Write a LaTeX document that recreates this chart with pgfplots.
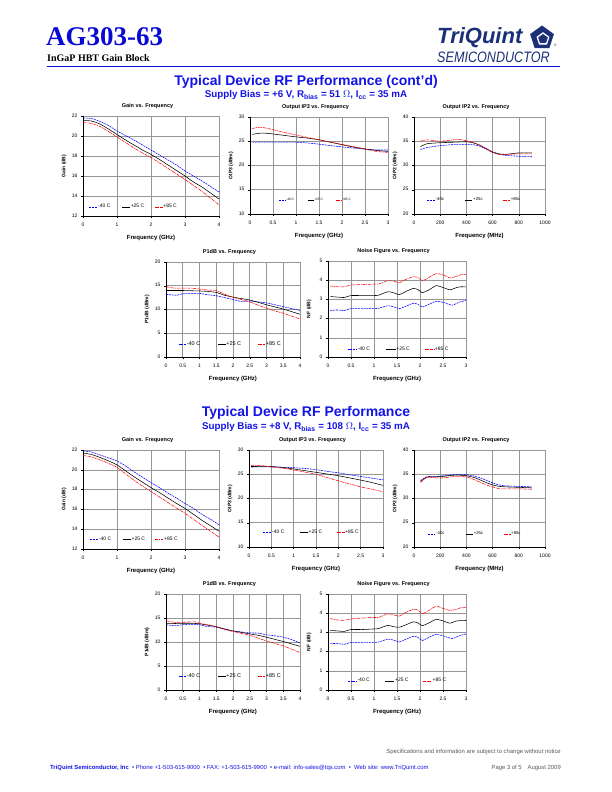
\documentclass[border=0pt]{standalone}
\usepackage{pgfplots}
\pgfplotsset{compat=1.18}
\usepackage{fontspec}
\setmainfont{Liberation Sans}
\newfontfamily\serifbf{Liberation Serif}
\usetikzlibrary{shapes.geometric}
\definecolor{tqblue}{RGB}{20,20,230}
\definecolor{hdrblue}{RGB}{10,10,215}
\definecolor{logoblue}{RGB}{28,48,120}
\definecolor{gridgray}{RGB}{150,150,150}
\definecolor{ftgray}{RGB}{90,90,90}
\pgfplotsset{
  ds/.style={
    scale only axis, anchor=south west, no markers,
    axis x line*=bottom, axis y line*=left,
    axis line style={black, line width=0.6pt},
    grid=major, major grid style={gridgray, line width=0.6pt},
    tick align=outside, major tick length=2pt,
    tick style={black, line width=0.5pt},
    ticklabel style={font=\fontsize{5}{6}\selectfont},
    typeset ticklabels with strut,
    xticklabel shift=0.5pt,
    /pgf/number format/assume math mode=true,
    /pgf/number format/1000 sep={},
    /pgf/number format/fixed,
    every axis title shift=0pt,
    title style={font=\bfseries\fontsize{5.5}{6}\selectfont, at={(0.5,1)}, anchor=center, yshift=9.5pt, xshift=-3.5pt},
    every axis x label/.style={at={(axis description cs:0.5,0)}, anchor=center, yshift=-22pt, font=\bfseries\fontsize{6}{7}\selectfont},
    every axis y label/.style={at={(axis description cs:0,0.5)}, xshift=-19pt, rotate=90, anchor=center, font=\bfseries\fontsize{5}{6}\selectfont},
    legend style={draw=none, fill=none, anchor=west, inner sep=0pt, nodes={inner sep=0.5pt}, column sep=0pt},
    legend columns=3, legend cell align=left,
    enlargelimits=false,
  },
  leglen/.style={legend image code/.code={\draw[##1] (0pt,0pt) -- (#1,0pt);}},
  m40/.style={blue, line width=0.55pt, dash pattern=on 2pt off 0.8pt, smooth, tension=0.3},
  m25/.style={black, line width=0.55pt, smooth, tension=0.3},
  m85/.style={red, line width=0.55pt, dash pattern=on 3pt off 0.8pt on 0.8pt off 0.8pt, smooth, tension=0.3},
}
\newcommand\LE[2]{\makebox[#1][l]{#2}}
\begin{document}
\begin{tikzpicture}
\fill[white] (0pt,0pt) rectangle (612pt,-792pt);
% ---------- header ----------
\node[anchor=base west, inner sep=0] at (46pt,-46pt) {\serifbf\bfseries\fontsize{27}{27}\selectfont\color{hdrblue}AG303-63};
\node[anchor=base west, inner sep=0] at (47pt,-62pt) {\serifbf\bfseries\fontsize{10}{10}\selectfont InGaP HBT Gain Block};
\draw[hdrblue, line width=1.5pt] (47pt,-66.5pt) -- (560pt,-66.5pt);
\node[anchor=base west, inner sep=0] at (437pt,-44pt) {\bfseries\itshape\fontsize{22}{22}\selectfont\color{logoblue}TriQuint};
\node[anchor=base west, inner sep=0] at (437pt,-63pt) {\color{logoblue}\scalebox{1}[1.2]{\itshape\fontsize{12.6}{13}\selectfont SEMICONDUCTOR}};
\node[regular polygon, regular polygon sides=5, fill=logoblue, minimum size=25pt, inner sep=0] at (542pt,-38pt) {};
\node[regular polygon, regular polygon sides=5, draw=white, line width=1.3pt, minimum size=12pt, inner sep=0] at (543pt,-39pt) {};
\node[anchor=base west, inner sep=0] at (554pt,-47pt) {\color{logoblue}\fontsize{3.5}{4}\selectfont\textregistered};
\node[anchor=base, inner sep=0] at (306pt,-85pt) {\bfseries\fontsize{14}{14}\selectfont\color{tqblue}Typical Device RF Performance (cont'd)};
\node[anchor=base, inner sep=0] at (306pt,-97.5pt) {\bfseries\fontsize{9.8}{10}\selectfont\color{tqblue}Supply Bias = +6 V, R\textsubscript{bias} = 51 $\Omega$, I\textsubscript{cc} = 35 mA};
\node[anchor=base, inner sep=0] at (306pt,-416pt) {\bfseries\fontsize{14}{14}\selectfont\color{tqblue}Typical Device RF Performance};
\node[anchor=base, inner sep=0] at (306pt,-429.5pt) {\bfseries\fontsize{9.8}{10}\selectfont\color{tqblue}Supply Bias = +8 V, R\textsubscript{bias} = 108 $\Omega$, I\textsubscript{cc} = 35 mA};
% ---------- footer ----------
\node[anchor=base east, inner sep=0] at (561pt,-753pt) {\fontsize{5.9}{7}\selectfont\color{ftgray}Specifications and information are subject to change without notice};
\node[anchor=base west, inner sep=0] at (50pt,-769pt) {\fontsize{5.9}{7}\selectfont\color{tqblue}\textbf{TriQuint Semiconductor, Inc}\ \ \textbullet\ Phone +1-503-615-9000\ \ \textbullet\ FAX: +1-503-615-9900\ \ \textbullet\ e-mail: info-sales@tqs.com\ \ \textbullet\ \ Web site: www.TriQuint.com};
\node[anchor=base east, inner sep=0] at (561pt,-769pt) {\fontsize{5.9}{7}\selectfont\color{ftgray}Page 3 of 5\quad August 2009};

% ================= C1 Gain 6V =================
\begin{axis}[ds, at={(83pt,-216pt)}, width=136pt, height=100pt,
  xmin=0, xmax=4, ymin=12, ymax=22, xtick={0,1,2,3,4}, ytick={12,14,16,18,20,22},
  title={Gain vs. Frequency}, xlabel={Frequency (GHz)}, ylabel={Gain (dB)},
  leglen=8pt, legend style={at={(0.044,0.09)}, font=\fontsize{5}{6}\selectfont}]
\addplot[m40] coordinates {(0,21.8)(0.25,21.75)(0.5,21.45)(0.75,21.05)(1,20.5)(1.25,20.05)(1.5,19.6)(1.75,19.1)(2,18.6)(2.25,18.1)(2.5,17.6)(2.75,17.1)(3,16.5)(3.25,16.0)(3.5,15.5)(3.75,14.95)(4,14.4)};
\addlegendentry{\LE{23pt}{-40 C}}
\addplot[m25] coordinates {(0,21.55)(0.25,21.5)(0.5,21.2)(0.75,20.7)(1,20.15)(1.25,19.6)(1.5,19.1)(1.75,18.6)(2,18.15)(2.25,17.65)(2.5,17.1)(2.75,16.55)(3,16.0)(3.25,15.4)(3.5,14.9)(3.75,14.3)(4,13.7)};
\addlegendentry{\LE{23pt}{+25 C}}
\addplot[m85] coordinates {(0,21.35)(0.25,21.25)(0.5,20.95)(0.75,20.45)(1,19.9)(1.25,19.35)(1.5,18.8)(1.75,18.3)(2,17.85)(2.25,17.3)(2.5,16.75)(2.75,16.2)(3,15.65)(3.25,15.05)(3.5,14.45)(3.75,13.8)(4,13.1)};
\addlegendentry{\LE{23pt}{+85 C}}
\end{axis}

% ================= C2 OIP3 6V =================
\begin{axis}[ds, at={(250pt,-214pt)}, width=138pt, height=97pt,
  xmin=0, xmax=3, ymin=10, ymax=30, xtick={0,0.5,1,1.5,2,2.5,3}, ytick={10,15,20,25,30},
  title={Output IP3 vs. Frequency}, xlabel={Frequency (GHz)}, ylabel={OIP3 (dBm)},
  leglen=6pt, legend style={at={(0.21,0.144)}, font=\fontsize{3.2}{4}\selectfont}]
\addplot[m40] coordinates {(0.05,24.8)(0.5,24.8)(1.0,24.8)(1.2,24.7)(1.5,24.4)(1.75,24.1)(2.0,23.85)(2.25,23.6)(2.5,23.4)(2.75,23.2)(3.0,23.2)};
\addlegendentry{\LE{20.5pt}{-40 C}}
\addplot[m25] coordinates {(0.05,26.4)(0.2,26.65)(0.35,26.65)(0.5,26.5)(0.75,26.2)(1.0,25.9)(1.25,25.65)(1.5,25.3)(1.75,24.8)(2.0,24.3)(2.25,23.8)(2.5,23.4)(2.75,23.1)(3.0,22.9)};
\addlegendentry{\LE{20.5pt}{+25 C}}
\addplot[m85] coordinates {(0.05,27.6)(0.15,27.85)(0.3,27.8)(0.5,27.4)(0.75,26.8)(1.0,26.3)(1.25,25.8)(1.5,25.3)(1.75,24.8)(2.0,24.35)(2.25,23.9)(2.5,23.4)(2.75,22.9)(3.0,22.7)};
\addlegendentry{\LE{20.5pt}{+85 C}}
\end{axis}

% ================= C3 OIP2 6V =================
\begin{axis}[ds, at={(414pt,-214pt)}, width=131pt, height=97pt,
  xmin=0, xmax=1000, ymin=20, ymax=40, xtick={0,200,400,600,800,1000}, ytick={20,25,30,35,40},
  title={Output IP2 vs. Frequency}, xlabel={Frequency (MHz)}, ylabel={OIP2 (dBm)},
  leglen=7.5pt, legend style={at={(0.099,0.144)}, font=\fontsize{4.3}{5}\selectfont}]
\addplot[m40] coordinates {(50,33.3)(100,33.7)(200,34.1)(300,34.3)(400,34.3)(450,34.3)(500,34.0)(550,33.4)(600,32.7)(650,32.3)(700,32.1)(800,31.9)(900,31.8)};
\addlegendentry{\LE{28.5pt}{-40c}}
\addplot[m25] coordinates {(50,33.9)(100,34.5)(200,34.7)(300,34.8)(400,34.9)(450,34.7)(500,34.2)(550,33.5)(600,32.8)(650,32.4)(700,32.3)(800,32.6)(900,32.6)};
\addlegendentry{\LE{28.5pt}{+25c}}
\addplot[m85] coordinates {(50,35.0)(100,35.3)(200,35.0)(300,35.3)(350,35.4)(400,35.1)(450,34.8)(500,34.2)(550,33.5)(600,32.8)(650,32.3)(700,32.3)(800,32.4)(900,32.4)};
\addlegendentry{\LE{28.5pt}{+85c}}
\end{axis}

% ================= C4 P1dB 6V =================
\begin{axis}[ds, at={(166pt,-357pt)}, width=134pt, height=95pt,
  xmin=0, xmax=4, ymin=0, ymax=20, xtick={0,0.5,1,1.5,2,2.5,3,3.5,4}, ytick={0,5,10,15,20},
  title={P1dB vs. Frequency}, xlabel={Frequency (GHz)}, ylabel={P1dB (dBm)},
  leglen=7.5pt, legend style={at={(0.09,0.137)}, font=\fontsize{5.5}{6}\selectfont}]
\addplot[m40] coordinates {(0,13.2)(0.3,13.0)(0.5,13.3)(0.75,13.35)(1,13.4)(1.25,13.1)(1.5,12.9)(1.75,12.5)(2,12.1)(2.25,11.7)(2.5,11.8)(2.75,11.6)(3,11.4)(3.25,11.0)(3.5,10.6)(3.75,10.2)(4,9.8)};
\addlegendentry{\LE{30.5pt}{-40 C}}
\addplot[m25] coordinates {(0,14.0)(0.5,14.0)(1,13.9)(1.25,13.8)(1.5,13.6)(1.75,13.0)(2,12.6)(2.25,12.3)(2.5,12.0)(2.75,11.5)(3,11.0)(3.25,10.55)(3.5,10.1)(3.75,9.55)(4,9.0)};
\addlegendentry{\LE{30.5pt}{+25 C}}
\addplot[m85] coordinates {(0,14.8)(0.25,14.5)(0.5,14.5)(0.75,14.5)(1,14.3)(1.25,14.1)(1.5,14.0)(1.75,13.2)(2,12.6)(2.25,12.1)(2.5,11.6)(2.75,10.9)(3,10.3)(3.25,9.7)(3.5,9.2)(3.75,8.6)(4,8.0)};
\addlegendentry{\LE{30.5pt}{+85 C}}
\end{axis}

% ================= C5 NF 6V =================
\begin{axis}[ds, at={(328pt,-357pt)}, width=138pt, height=96pt,
  xmin=0, xmax=3, ymin=0, ymax=5, xtick={0,0.5,1,1.5,2,2.5,3}, ytick={0,1,2,3,4,5},
  title={Noise Figure vs. Frequency}, xlabel={Frequency (GHz)}, ylabel={NF (dB)},
  leglen=9.5pt, legend style={at={(0.138,0.083)}, font=\fontsize{5}{6}\selectfont}]
\addplot[m40] coordinates {(0.05,2.42)(0.2,2.45)(0.35,2.42)(0.5,2.52)(0.75,2.52)(1.0,2.52)(1.1,2.54)(1.3,2.67)(1.42,2.62)(1.55,2.52)(1.7,2.65)(1.85,2.8)(1.95,2.75)(2.05,2.6)(2.2,2.75)(2.35,2.9)(2.5,2.85)(2.7,2.7)(2.85,2.85)(3.0,2.95)};
\addlegendentry{\LE{27.5pt}{-40 C}}
\addplot[m25] coordinates {(0.05,3.15)(0.2,3.12)(0.35,3.1)(0.5,3.2)(0.75,3.2)(1.0,3.2)(1.1,3.22)(1.3,3.4)(1.42,3.35)(1.55,3.25)(1.7,3.42)(1.85,3.57)(1.95,3.52)(2.05,3.35)(2.2,3.5)(2.35,3.72)(2.5,3.62)(2.65,3.5)(2.8,3.62)(2.9,3.66)(3.0,3.65)};
\addlegendentry{\LE{27.5pt}{+25 C}}
\addplot[m85] coordinates {(0.05,3.7)(0.2,3.66)(0.35,3.65)(0.5,3.75)(0.75,3.77)(1.0,3.8)(1.1,3.8)(1.3,3.97)(1.42,3.95)(1.55,3.87)(1.7,4.05)(1.85,4.18)(1.95,4.15)(2.05,3.97)(2.2,4.15)(2.35,4.35)(2.5,4.28)(2.65,4.12)(2.8,4.2)(2.9,4.3)(3.0,4.3)};
\addlegendentry{\LE{27.5pt}{+85 C}}
\end{axis}

% ================= C6 Gain 8V =================
\begin{axis}[ds, at={(83pt,-549pt)}, width=136pt, height=99pt,
  xmin=0, xmax=4, ymin=12, ymax=22, xtick={0,1,2,3,4}, ytick={12,14,16,18,20,22},
  title={Gain vs. Frequency}, xlabel={Frequency (GHz)}, ylabel={Gain (dB)},
  leglen=8pt, legend style={at={(0.05,0.1)}, font=\fontsize{5}{6}\selectfont}]
\addplot[m40] coordinates {(0,21.9)(0.25,21.8)(0.5,21.5)(0.75,21.2)(1,20.9)(1.25,20.4)(1.5,19.8)(1.75,19.25)(2,18.7)(2.25,18.2)(2.5,17.65)(2.75,17.15)(3,16.6)(3.25,16.1)(3.5,15.5)(3.75,15.0)(4,14.45)};
\addlegendentry{\LE{23pt}{-40 C}}
\addplot[m25] coordinates {(0,21.7)(0.25,21.55)(0.5,21.25)(0.75,20.9)(1,20.5)(1.25,19.9)(1.5,19.3)(1.75,18.75)(2,18.2)(2.25,17.7)(2.5,17.15)(2.75,16.6)(3,16.1)(3.25,15.5)(3.5,14.9)(3.75,14.35)(4,13.8)};
\addlegendentry{\LE{23pt}{+25 C}}
\addplot[m85] coordinates {(0,21.45)(0.25,21.3)(0.5,21.0)(0.75,20.65)(1,20.25)(1.25,19.6)(1.5,18.95)(1.75,18.35)(2,17.8)(2.25,17.25)(2.5,16.7)(2.75,16.15)(3,15.6)(3.25,15.0)(3.5,14.4)(3.75,13.8)(4,13.2)};
\addlegendentry{\LE{23pt}{+85 C}}
\end{axis}

% ================= C7 OIP3 8V =================
\begin{axis}[ds, at={(249pt,-547pt)}, width=134pt, height=97pt,
  xmin=0, xmax=3, ymin=10, ymax=30, xtick={0,0.5,1,1.5,2,2.5,3}, ytick={10,15,20,25,30},
  title={Output IP3 vs. Frequency}, xlabel={Frequency (GHz)}, ylabel={OIP3 (dBm)},
  leglen=8pt, legend style={at={(0.104,0.147)}, font=\fontsize{5}{6}\selectfont}]
\addplot[m40] coordinates {(0.05,26.5)(0.5,26.5)(1.0,26.35)(1.25,26.2)(1.5,25.95)(1.75,25.6)(2.0,25.3)(2.25,24.9)(2.5,24.55)(2.75,24.2)(3.0,23.85)};
\addlegendentry{\LE{27pt}{-40 C}}
\addplot[m25] coordinates {(0.05,26.6)(0.5,26.6)(0.75,26.4)(1.0,26.1)(1.25,25.75)(1.5,25.4)(1.75,25.05)(2.0,24.7)(2.25,24.25)(2.5,23.8)(2.75,23.3)(3.0,22.7)};
\addlegendentry{\LE{27pt}{+25 C}}
\addplot[m85] coordinates {(0.05,26.85)(0.25,26.8)(0.5,26.55)(0.75,26.25)(1.0,25.9)(1.25,25.45)(1.5,25.0)(1.75,24.3)(2.0,23.65)(2.25,23.0)(2.5,22.4)(2.75,21.9)(3.0,21.4)};
\addlegendentry{\LE{27pt}{+85 C}}
\end{axis}

% ================= C8 OIP2 8V =================
\begin{axis}[ds, at={(414pt,-547pt)}, width=131pt, height=97pt,
  xmin=0, xmax=1000, ymin=20, ymax=40, xtick={0,200,400,600,800,1000}, ytick={20,25,30,35,40},
  title={Output IP2 vs. Frequency}, xlabel={Frequency (MHz)}, ylabel={OIP2 (dBm)},
  leglen=7pt, legend style={at={(0.107,0.134)}, font=\fontsize{4.2}{5}\selectfont}]
\addplot[m40] coordinates {(50,33.7)(100,34.5)(200,34.6)(300,34.9)(350,35.0)(400,34.9)(450,34.7)(500,34.3)(550,33.8)(600,33.2)(650,32.8)(700,32.6)(800,32.5)(900,32.4)};
\addlegendentry{\LE{29pt}{-40c}}
\addplot[m25] coordinates {(50,33.5)(100,34.4)(200,34.5)(300,34.8)(350,34.8)(400,34.7)(450,34.4)(500,33.9)(550,33.3)(600,32.8)(650,32.5)(700,32.4)(800,32.3)(900,32.2)};
\addlegendentry{\LE{29pt}{+25c}}
\addplot[m85] coordinates {(50,33.3)(100,34.4)(200,34.2)(300,34.5)(350,34.6)(400,34.5)(450,34.0)(500,33.4)(550,32.8)(600,32.4)(650,32.0)(700,32.0)(800,32.0)(900,31.9)};
\addlegendentry{\LE{29pt}{+85c}}
\end{axis}

% ================= C9 P1dB 8V =================
\begin{axis}[ds, at={(166pt,-690pt)}, width=134pt, height=96pt,
  xmin=0, xmax=4, ymin=0, ymax=20, xtick={0,0.5,1,1.5,2,2.5,3,3.5,4}, ytick={0,5,10,15,20},
  title={P1dB vs. Frequency}, xlabel={Frequency (GHz)}, ylabel={P1dB (dBm)},
  leglen=7.5pt, legend style={at={(0.09,0.146)}, font=\fontsize{5.5}{6}\selectfont}]
\addplot[m40] coordinates {(0,13.6)(0.25,13.4)(0.5,13.6)(0.75,13.7)(1,13.6)(1.25,13.2)(1.5,13.1)(1.75,12.7)(2,12.3)(2.25,12.1)(2.5,11.9)(2.75,11.85)(3,11.5)(3.25,11.3)(3.5,11.0)(3.75,10.5)(4,9.8)};
\addlegendentry{\LE{30.5pt}{-40 C}}
\addplot[m25] coordinates {(0,13.8)(0.5,13.9)(0.75,13.9)(1,13.8)(1.25,13.5)(1.5,13.2)(1.75,12.7)(2,12.3)(2.25,12.0)(2.5,11.7)(2.75,11.4)(3,11.0)(3.25,10.55)(3.5,10.1)(3.75,9.6)(4,9.1)};
\addlegendentry{\LE{30.5pt}{+25 C}}
\addplot[m85] coordinates {(0,14.4)(0.25,14.1)(0.5,14.1)(0.75,14.2)(0.9,14.2)(1,13.9)(1.25,13.6)(1.5,13.2)(1.75,12.6)(2,12.2)(2.25,11.8)(2.5,11.4)(2.75,10.8)(3,10.2)(3.25,9.7)(3.5,9.2)(3.75,8.5)(4,7.8)};
\addlegendentry{\LE{30.5pt}{+85 C}}
\end{axis}

% ================= C10 NF 8V =================
\begin{axis}[ds, at={(328pt,-690pt)}, width=138pt, height=96pt,
  xmin=0, xmax=3, ymin=0, ymax=5, xtick={0,0.5,1,1.5,2,2.5,3}, ytick={0,1,2,3,4,5},
  title={Noise Figure vs. Frequency}, xlabel={Frequency (GHz)}, ylabel={NF (dB)},
  leglen=9pt, legend style={at={(0.14,0.094)}, font=\fontsize{5}{6}\selectfont}]
\addplot[m40] coordinates {(0.05,2.42)(0.2,2.42)(0.35,2.38)(0.5,2.48)(0.75,2.48)(1.0,2.48)(1.1,2.5)(1.3,2.65)(1.42,2.6)(1.55,2.5)(1.7,2.65)(1.85,2.8)(1.95,2.75)(2.05,2.58)(2.2,2.75)(2.35,2.9)(2.5,2.82)(2.7,2.68)(2.85,2.82)(3.0,2.92)};
\addlegendentry{\LE{27pt}{-40 C}}
\addplot[m25] coordinates {(0.05,3.1)(0.2,3.08)(0.35,3.05)(0.5,3.15)(0.75,3.15)(1.0,3.18)(1.1,3.2)(1.3,3.37)(1.42,3.3)(1.55,3.27)(1.7,3.4)(1.85,3.55)(1.95,3.5)(2.05,3.35)(2.2,3.5)(2.35,3.68)(2.5,3.6)(2.65,3.48)(2.8,3.6)(3.0,3.62)};
\addlegendentry{\LE{27pt}{+25 C}}
\addplot[m85] coordinates {(0.05,3.72)(0.2,3.65)(0.35,3.63)(0.5,3.7)(0.75,3.75)(1.0,3.78)(1.1,3.78)(1.3,3.97)(1.42,3.92)(1.55,3.85)(1.7,4.05)(1.85,4.2)(1.95,4.18)(2.05,3.97)(2.2,4.15)(2.35,4.37)(2.5,4.25)(2.65,4.15)(2.8,4.2)(2.9,4.3)(3.0,4.3)};
\addlegendentry{\LE{27pt}{+85 C}}
\end{axis}
\end{tikzpicture}
\end{document}
